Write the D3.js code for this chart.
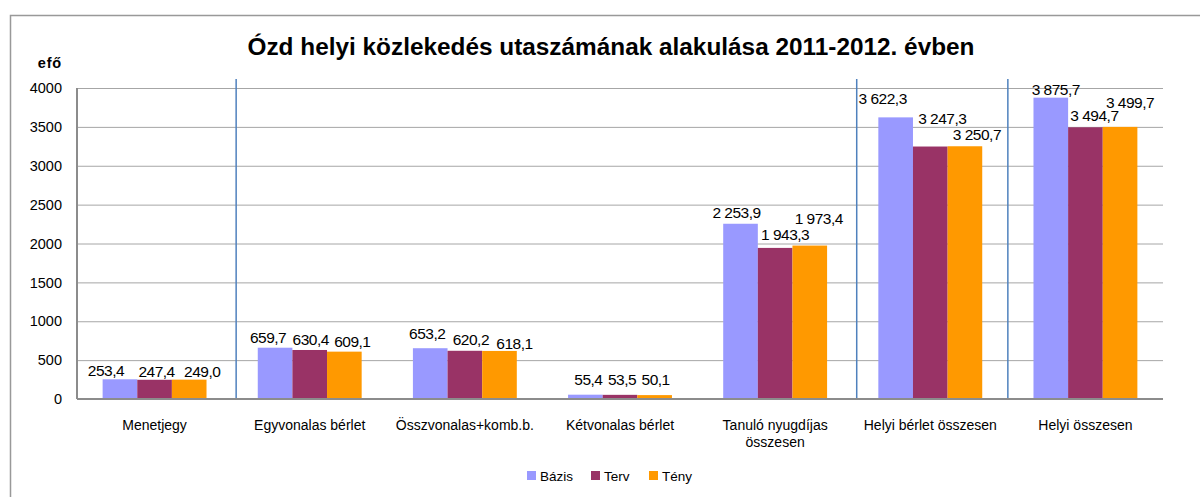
<!DOCTYPE html>
<html>
<head>
<meta charset="utf-8">
<script src="https://cdn.jsdelivr.net/npm/d3@7"></script>
<style>
  body { margin: 0; background: #fff; }
  svg { font-family: "Liberation Sans", Arial, sans-serif; display: block; }
</style>
</head>
<body>
<div id="wrapper"></div>
<script>
/* data */
const categories = ["Menetjegy", "Egyvonalas bérlet", "Összvonalas+komb.b.", "Kétvonalas bérlet",
  "Tanuló nyugdíjas összesen", "Helyi bérlet összesen", "Helyi összesen"];
const series = ["Bázis", "Terv", "Tény"];
const bazis = [253.4, 659.7, 653.2, 55.4, 2253.9, 3622.3, 3875.7];
const terv  = [247.4, 630.4, 620.2, 53.5, 1943.3, 3247.3, 3494.7];
const teny  = [249.0, 609.1, 618.1, 50.1, 1973.4, 3250.7, 3499.7];
const yTicks = [0, 500, 1000, 1500, 2000, 2500, 3000, 3500, 4000];

// hand-placed label offsets [dx, dy] per category, per series (like in the original)
const labelNudge = [
  [[-14, 2], [2, 2], [13, 2]],
  [[-7, 0], [1, 0], [8, 0]],
  [[-3, -4], [6, -1], [15, 3]],
  [[3, -5], [2, -5], [1, -5]],
  [[-4, -1], [10, -3], [9, -17]],
  [[-13, -8], [12, -18], [12, -1]],
  [[5, 2], [9, -1], [10, -14]]
];

const colors = ["#9999ff", "#993366", "#ff9900"];

async function drawChart() {
  const values = [bazis, terv, teny];
  const dataset = categories.map((c, i) => ({
    cat: c,
    i: i,
    vals: series.map((s, j) => ({ s: s, j: j, v: values[j][i] }))
  }));

  const dimensions = {
    width: 1200,
    height: 497,
    margin: { top: 88, right: 37, bottom: 98, left: 77 }
  };
  dimensions.boundedWidth = dimensions.width - dimensions.margin.left - dimensions.margin.right;
  dimensions.boundedHeight = dimensions.height - dimensions.margin.top - dimensions.margin.bottom;

  const wrapper = d3.select("#wrapper").append("svg")
    .attr("width", dimensions.width)
    .attr("height", dimensions.height);

  // outer chart frame
  wrapper.append("rect")
    .attr("x", 10.5).attr("y", 15.5)
    .attr("width", 1300).attr("height", 600)
    .attr("fill", "none")
    .attr("stroke", "#999")
    .attr("stroke-width", 1.5);

  const bounds = wrapper.append("g")
    .attr("transform", `translate(${dimensions.margin.left},${dimensions.margin.top})`);

  // scales
  const xScale = d3.scaleBand()
    .domain(categories)
    .range([0, dimensions.boundedWidth]);
  const xInner = d3.scaleBand()
    .domain(series)
    .range([0, xScale.bandwidth()])
    .paddingOuter(0.74);
  const yScale = d3.scaleLinear()
    .domain([0, 4000])
    .range([dimensions.boundedHeight, 0]);

  const fmt = d3.formatLocale({ decimal: ",", thousands: " ", grouping: [3], currency: ["", ""] }).format(",.1f");

  // gridlines
  bounds.append("g")
    .selectAll("line")
    .data(yTicks.filter(d => d > 0))
    .join("line")
      .attr("x1", 0)
      .attr("x2", dimensions.boundedWidth)
      .attr("y1", d => yScale(d) + 0.5)
      .attr("y2", d => yScale(d) + 0.5)
      .attr("stroke", "#a6a6a6")
      .attr("stroke-width", 1);

  // y axis
  const yAxisGenerator = d3.axisLeft(yScale)
    .tickValues(yTicks)
    .tickSize(0)
    .tickPadding(15)
    .tickFormat(d3.format("d"));
  const yAxis = bounds.append("g").call(yAxisGenerator);
  yAxis.select(".domain").remove();
  yAxis.selectAll("text")
    .attr("font-family", "Liberation Sans, Arial, sans-serif")
    .attr("font-size", 14.5)
    .attr("fill", "#000");

  bounds.append("line")
    .attr("x1", 0).attr("x2", 0)
    .attr("y1", 0).attr("y2", dimensions.boundedHeight)
    .attr("stroke", "#8c8c8c").attr("stroke-width", 2);

  // unit label
  wrapper.append("text")
    .attr("x", 62).attr("y", 68)
    .attr("text-anchor", "end")
    .attr("font-size", 14.5)
    .attr("font-weight", "bold")
    .attr("letter-spacing", 0.8)
    .text("efő");

  // separators between group blocks
  const sepAfter = [0, 4, 5];
  const sepDx = [4, 4, 0];
  bounds.append("g")
    .selectAll("line")
    .data(sepAfter)
    .join("line")
      .attr("x1", (d, k) => xScale(categories[d + 1]) + sepDx[k])
      .attr("x2", (d, k) => xScale(categories[d + 1]) + sepDx[k])
      .attr("y1", -9)
      .attr("y2", dimensions.boundedHeight)
      .attr("stroke", "#4f81bd")
      .attr("stroke-width", 1.5);

  // bars
  const groups = bounds.selectAll(".grp")
    .data(dataset)
    .join("g")
      .attr("class", "grp")
      .attr("transform", d => `translate(${xScale(d.cat)},0)`);

  groups.selectAll("rect")
    .data(d => d.vals)
    .join("rect")
      .attr("x", d => xInner(d.s))
      .attr("y", d => yScale(d.v))
      .attr("width", xInner.bandwidth())
      .attr("height", d => dimensions.boundedHeight - yScale(d.v))
      .attr("fill", d => colors[d.j]);

  // value labels
  groups.selectAll("text")
    .data(d => d.vals.map(v => Object.assign({ i: d.i }, v)))
    .join("text")
      .attr("x", d => xInner(d.s) + xInner.bandwidth() / 2 + labelNudge[d.i][d.j][0])
      .attr("y", d => yScale(d.v) - 5 + labelNudge[d.i][d.j][1])
      .attr("text-anchor", "middle")
      .attr("font-size", 15.5)
      .attr("letter-spacing", -0.5)
      .attr("fill", "#000")
      .text(d => fmt(d.v));

  // zero line
  bounds.append("line")
    .attr("x1", 0).attr("x2", dimensions.boundedWidth)
    .attr("y1", dimensions.boundedHeight).attr("y2", dimensions.boundedHeight)
    .attr("stroke", "#8c8c8c").attr("stroke-width", 2);

  // category labels
  const catLabels = bounds.append("g")
    .selectAll("text")
    .data(categories)
    .join("text")
      .attr("x", d => xScale(d) + xScale.bandwidth() / 2)
      .attr("y", dimensions.boundedHeight + 31)
      .attr("text-anchor", "middle")
      .attr("font-size", 14)
      .attr("fill", "#000");
  catLabels.each(function(d) {
    const t = d3.select(this);
    if (d === "Tanuló nyugdíjas összesen") {
      t.append("tspan").attr("x", t.attr("x")).text("Tanuló nyugdíjas");
      t.append("tspan").attr("x", t.attr("x")).attr("dy", 17).text("összesen");
    } else {
      t.text(d);
    }
  });

  // title
  wrapper.append("text")
    .attr("x", 611).attr("y", 55)
    .attr("text-anchor", "middle")
    .attr("font-size", 23)
    .attr("font-weight", "bold")
    .attr("textLength", 727)
    .attr("lengthAdjust", "spacingAndGlyphs")
    .text("Ózd helyi közlekedés utaszámának alakulása 2011-2012.  évben");

  // legend
  const legendX = [527, 591, 649];
  const legend = wrapper.append("g")
    .selectAll("g")
    .data(series)
    .join("g")
      .attr("transform", (d, j) => `translate(${legendX[j]},471)`);
  legend.append("rect")
    .attr("width", 9).attr("height", 9)
    .attr("fill", (d, j) => colors[j]);
  legend.append("text")
    .attr("x", 13).attr("y", 9.5)
    .attr("font-size", 13.5)
    .attr("fill", "#000")
    .text(d => d);
}
drawChart();
</script>
</body>
</html>
